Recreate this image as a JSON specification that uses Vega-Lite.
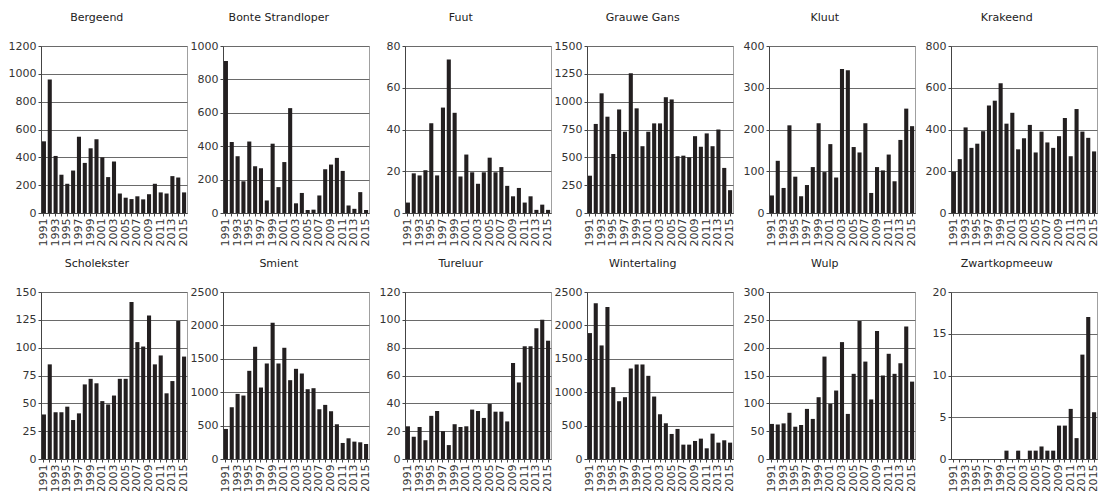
{
  "$schema": "https://vega.github.io/schema/vega-lite/v6.json",
  "padding": {"left": 4, "top": 11, "right": 0, "bottom": 0},
  "background": "white",
  "bounds": "flush",
  "datasets": {
    "Bergeend": [{"year":1991,"n":515},{"year":1992,"n":960},{"year":1993,"n":410},{"year":1994,"n":275},{"year":1995,"n":210},{"year":1996,"n":305},{"year":1997,"n":548},{"year":1998,"n":360},{"year":1999,"n":465},{"year":2000,"n":530},{"year":2001,"n":400},{"year":2002,"n":258},{"year":2003,"n":370},{"year":2004,"n":140},{"year":2005,"n":110},{"year":2006,"n":100},{"year":2007,"n":120},{"year":2008,"n":98},{"year":2009,"n":135},{"year":2010,"n":210},{"year":2011,"n":148},{"year":2012,"n":140},{"year":2013,"n":265},{"year":2014,"n":255},{"year":2015,"n":148}],
    "Bonte Strandloper": [{"year":1991,"n":910},{"year":1992,"n":425},{"year":1993,"n":340},{"year":1994,"n":190},{"year":1995,"n":428},{"year":1996,"n":280},{"year":1997,"n":268},{"year":1998,"n":75},{"year":1999,"n":415},{"year":2000,"n":155},{"year":2001,"n":305},{"year":2002,"n":628},{"year":2003,"n":58},{"year":2004,"n":120},{"year":2005,"n":18},{"year":2006,"n":20},{"year":2007,"n":105},{"year":2008,"n":262},{"year":2009,"n":290},{"year":2010,"n":330},{"year":2011,"n":252},{"year":2012,"n":45},{"year":2013,"n":25},{"year":2014,"n":125},{"year":2015,"n":18}],
    "Fuut": [{"year":1991,"n":5},{"year":1992,"n":19},{"year":1993,"n":18},{"year":1994,"n":20.5},{"year":1995,"n":43},{"year":1996,"n":18},{"year":1997,"n":50.5},{"year":1998,"n":73.5},{"year":1999,"n":48},{"year":2000,"n":17.5},{"year":2001,"n":28},{"year":2002,"n":19.5},{"year":2003,"n":14},{"year":2004,"n":19.5},{"year":2005,"n":26.5},{"year":2006,"n":19.5},{"year":2007,"n":22},{"year":2008,"n":13},{"year":2009,"n":8},{"year":2010,"n":12},{"year":2011,"n":5},{"year":2012,"n":8},{"year":2013,"n":1.5},{"year":2014,"n":4},{"year":2015,"n":1.5}],
    "Grauwe Gans": [{"year":1991,"n":335},{"year":1992,"n":800},{"year":1993,"n":1075},{"year":1994,"n":865},{"year":1995,"n":530},{"year":1996,"n":930},{"year":1997,"n":730},{"year":1998,"n":1255},{"year":1999,"n":940},{"year":2000,"n":600},{"year":2001,"n":730},{"year":2002,"n":805},{"year":2003,"n":805},{"year":2004,"n":1040},{"year":2005,"n":1020},{"year":2006,"n":510},{"year":2007,"n":515},{"year":2008,"n":500},{"year":2009,"n":690},{"year":2010,"n":595},{"year":2011,"n":715},{"year":2012,"n":600},{"year":2013,"n":750},{"year":2014,"n":405},{"year":2015,"n":205}],
    "Kluut": [{"year":1991,"n":42},{"year":1992,"n":125},{"year":1993,"n":60},{"year":1994,"n":210},{"year":1995,"n":87},{"year":1996,"n":40},{"year":1997,"n":67},{"year":1998,"n":110},{"year":1999,"n":215},{"year":2000,"n":98},{"year":2001,"n":165},{"year":2002,"n":85},{"year":2003,"n":345},{"year":2004,"n":342},{"year":2005,"n":158},{"year":2006,"n":145},{"year":2007,"n":215},{"year":2008,"n":48},{"year":2009,"n":110},{"year":2010,"n":102},{"year":2011,"n":140},{"year":2012,"n":76},{"year":2013,"n":175},{"year":2014,"n":250},{"year":2015,"n":208}],
    "Krakeend": [{"year":1991,"n":198},{"year":1992,"n":258},{"year":1993,"n":410},{"year":1994,"n":312},{"year":1995,"n":332},{"year":1996,"n":392},{"year":1997,"n":515},{"year":1998,"n":538},{"year":1999,"n":622},{"year":2000,"n":428},{"year":2001,"n":480},{"year":2002,"n":305},{"year":2003,"n":358},{"year":2004,"n":422},{"year":2005,"n":290},{"year":2006,"n":390},{"year":2007,"n":338},{"year":2008,"n":312},{"year":2009,"n":368},{"year":2010,"n":455},{"year":2011,"n":272},{"year":2012,"n":498},{"year":2013,"n":390},{"year":2014,"n":360},{"year":2015,"n":295}],
    "Scholekster": [{"year":1991,"n":40},{"year":1992,"n":85},{"year":1993,"n":42},{"year":1994,"n":42},{"year":1995,"n":47},{"year":1996,"n":35},{"year":1997,"n":41},{"year":1998,"n":67},{"year":1999,"n":72},{"year":2000,"n":68},{"year":2001,"n":52},{"year":2002,"n":49},{"year":2003,"n":57},{"year":2004,"n":72},{"year":2005,"n":72},{"year":2006,"n":141},{"year":2007,"n":105},{"year":2008,"n":101},{"year":2009,"n":129},{"year":2010,"n":85},{"year":2011,"n":93},{"year":2012,"n":59},{"year":2013,"n":70},{"year":2014,"n":124},{"year":2015,"n":92}],
    "Smient": [{"year":1991,"n":450},{"year":1992,"n":775},{"year":1993,"n":975},{"year":1994,"n":950},{"year":1995,"n":1320},{"year":1996,"n":1680},{"year":1997,"n":1070},{"year":1998,"n":1430},{"year":1999,"n":2040},{"year":2000,"n":1430},{"year":2001,"n":1665},{"year":2002,"n":1180},{"year":2003,"n":1350},{"year":2004,"n":1280},{"year":2005,"n":1045},{"year":2006,"n":1060},{"year":2007,"n":745},{"year":2008,"n":810},{"year":2009,"n":715},{"year":2010,"n":520},{"year":2011,"n":240},{"year":2012,"n":310},{"year":2013,"n":260},{"year":2014,"n":250},{"year":2015,"n":225}],
    "Tureluur": [{"year":1991,"n":23.5},{"year":1992,"n":16},{"year":1993,"n":23},{"year":1994,"n":13.5},{"year":1995,"n":31},{"year":1996,"n":34.5},{"year":1997,"n":20},{"year":1998,"n":10},{"year":1999,"n":25},{"year":2000,"n":23},{"year":2001,"n":23.5},{"year":2002,"n":35.5},{"year":2003,"n":34.5},{"year":2004,"n":29.5},{"year":2005,"n":39.5},{"year":2006,"n":34},{"year":2007,"n":34},{"year":2008,"n":27},{"year":2009,"n":69},{"year":2010,"n":55},{"year":2011,"n":81},{"year":2012,"n":81},{"year":2013,"n":94},{"year":2014,"n":100},{"year":2015,"n":85}],
    "Wintertaling": [{"year":1991,"n":1885},{"year":1992,"n":2330},{"year":1993,"n":1700},{"year":1994,"n":2275},{"year":1995,"n":1075},{"year":1996,"n":865},{"year":1997,"n":925},{"year":1998,"n":1355},{"year":1999,"n":1415},{"year":2000,"n":1415},{"year":2001,"n":1245},{"year":2002,"n":935},{"year":2003,"n":670},{"year":2004,"n":535},{"year":2005,"n":375},{"year":2006,"n":450},{"year":2007,"n":215},{"year":2008,"n":215},{"year":2009,"n":270},{"year":2010,"n":305},{"year":2011,"n":160},{"year":2012,"n":380},{"year":2013,"n":245},{"year":2014,"n":280},{"year":2015,"n":245}],
    "Wulp": [{"year":1991,"n":63},{"year":1992,"n":62},{"year":1993,"n":64},{"year":1994,"n":83},{"year":1995,"n":58},{"year":1996,"n":61},{"year":1997,"n":90},{"year":1998,"n":72},{"year":1999,"n":111},{"year":2000,"n":184},{"year":2001,"n":99},{"year":2002,"n":123},{"year":2003,"n":210},{"year":2004,"n":81},{"year":2005,"n":153},{"year":2006,"n":248},{"year":2007,"n":175},{"year":2008,"n":107},{"year":2009,"n":230},{"year":2010,"n":150},{"year":2011,"n":189},{"year":2012,"n":153},{"year":2013,"n":172},{"year":2014,"n":238},{"year":2015,"n":139}],
    "Zwartkopmeeuw": [{"year":1991,"n":0},{"year":1992,"n":0},{"year":1993,"n":0},{"year":1994,"n":0},{"year":1995,"n":0},{"year":1996,"n":0},{"year":1997,"n":0},{"year":1998,"n":0},{"year":1999,"n":0},{"year":2000,"n":1},{"year":2001,"n":0},{"year":2002,"n":1},{"year":2003,"n":0},{"year":2004,"n":1},{"year":2005,"n":1},{"year":2006,"n":1.5},{"year":2007,"n":1},{"year":2008,"n":1},{"year":2009,"n":4},{"year":2010,"n":4},{"year":2011,"n":6},{"year":2012,"n":2.5},{"year":2013,"n":12.5},{"year":2014,"n":17},{"year":2015,"n":5.6}]
  },
  "columns": 6,
  "spacing": {"row": 79, "column": 36},
  "concat": [
    {"title": "Bergeend", "data": {"name": "Bergeend"}, "width": 146, "height": 167, "mark": {"type": "bar", "color": "#231f20"},
     "encoding": {"x": {"field": "year", "type": "ordinal", "scale": {"paddingInner": 0.3, "paddingOuter": 0.15}, "axis": {"title": null, "labelOverlap": false, "labelExpr": "datum.value % 2 == 1 ? datum.label : ''"}},
                  "y": {"field": "n", "type": "quantitative", "scale": {"domain": [0, 1200]}, "axis": {"title": null, "format": "d", "values": [0, 200, 400, 600, 800, 1000, 1200]}}}},
    {"title": "Bonte Strandloper", "data": {"name": "Bonte Strandloper"}, "width": 146, "height": 167, "mark": {"type": "bar", "color": "#231f20"},
     "encoding": {"x": {"field": "year", "type": "ordinal", "scale": {"paddingInner": 0.3, "paddingOuter": 0.15}, "axis": {"title": null, "labelOverlap": false, "labelExpr": "datum.value % 2 == 1 ? datum.label : ''"}},
                  "y": {"field": "n", "type": "quantitative", "scale": {"domain": [0, 1000]}, "axis": {"title": null, "format": "d", "values": [0, 200, 400, 600, 800, 1000]}}}},
    {"title": "Fuut", "data": {"name": "Fuut"}, "width": 146, "height": 167, "mark": {"type": "bar", "color": "#231f20"},
     "encoding": {"x": {"field": "year", "type": "ordinal", "scale": {"paddingInner": 0.3, "paddingOuter": 0.15}, "axis": {"title": null, "labelOverlap": false, "labelExpr": "datum.value % 2 == 1 ? datum.label : ''"}},
                  "y": {"field": "n", "type": "quantitative", "scale": {"domain": [0, 80]}, "axis": {"title": null, "format": "d", "values": [0, 20, 40, 60, 80]}}}},
    {"title": "Grauwe Gans", "data": {"name": "Grauwe Gans"}, "width": 146, "height": 167, "mark": {"type": "bar", "color": "#231f20"},
     "encoding": {"x": {"field": "year", "type": "ordinal", "scale": {"paddingInner": 0.3, "paddingOuter": 0.15}, "axis": {"title": null, "labelOverlap": false, "labelExpr": "datum.value % 2 == 1 ? datum.label : ''"}},
                  "y": {"field": "n", "type": "quantitative", "scale": {"domain": [0, 1500]}, "axis": {"title": null, "format": "d", "values": [0, 250, 500, 750, 1000, 1250, 1500]}}}},
    {"title": "Kluut", "data": {"name": "Kluut"}, "width": 146, "height": 167, "mark": {"type": "bar", "color": "#231f20"},
     "encoding": {"x": {"field": "year", "type": "ordinal", "scale": {"paddingInner": 0.3, "paddingOuter": 0.15}, "axis": {"title": null, "labelOverlap": false, "labelExpr": "datum.value % 2 == 1 ? datum.label : ''"}},
                  "y": {"field": "n", "type": "quantitative", "scale": {"domain": [0, 400]}, "axis": {"title": null, "format": "d", "values": [0, 100, 200, 300, 400]}}}},
    {"title": "Krakeend", "data": {"name": "Krakeend"}, "width": 146, "height": 167, "mark": {"type": "bar", "color": "#231f20"},
     "encoding": {"x": {"field": "year", "type": "ordinal", "scale": {"paddingInner": 0.3, "paddingOuter": 0.15}, "axis": {"title": null, "labelOverlap": false, "labelExpr": "datum.value % 2 == 1 ? datum.label : ''"}},
                  "y": {"field": "n", "type": "quantitative", "scale": {"domain": [0, 800]}, "axis": {"title": null, "format": "d", "values": [0, 200, 400, 600, 800]}}}},
    {"title": "Scholekster", "data": {"name": "Scholekster"}, "width": 146, "height": 167, "mark": {"type": "bar", "color": "#231f20"},
     "encoding": {"x": {"field": "year", "type": "ordinal", "scale": {"paddingInner": 0.3, "paddingOuter": 0.15}, "axis": {"title": null, "labelOverlap": false, "labelExpr": "datum.value % 2 == 1 ? datum.label : ''"}},
                  "y": {"field": "n", "type": "quantitative", "scale": {"domain": [0, 150]}, "axis": {"title": null, "format": "d", "values": [0, 25, 50, 75, 100, 125, 150]}}}},
    {"title": "Smient", "data": {"name": "Smient"}, "width": 146, "height": 167, "mark": {"type": "bar", "color": "#231f20"},
     "encoding": {"x": {"field": "year", "type": "ordinal", "scale": {"paddingInner": 0.3, "paddingOuter": 0.15}, "axis": {"title": null, "labelOverlap": false, "labelExpr": "datum.value % 2 == 1 ? datum.label : ''"}},
                  "y": {"field": "n", "type": "quantitative", "scale": {"domain": [0, 2500]}, "axis": {"title": null, "format": "d", "values": [0, 500, 1000, 1500, 2000, 2500]}}}},
    {"title": "Tureluur", "data": {"name": "Tureluur"}, "width": 146, "height": 167, "mark": {"type": "bar", "color": "#231f20"},
     "encoding": {"x": {"field": "year", "type": "ordinal", "scale": {"paddingInner": 0.3, "paddingOuter": 0.15}, "axis": {"title": null, "labelOverlap": false, "labelExpr": "datum.value % 2 == 1 ? datum.label : ''"}},
                  "y": {"field": "n", "type": "quantitative", "scale": {"domain": [0, 120]}, "axis": {"title": null, "format": "d", "values": [0, 20, 40, 60, 80, 100, 120]}}}},
    {"title": "Wintertaling", "data": {"name": "Wintertaling"}, "width": 146, "height": 167, "mark": {"type": "bar", "color": "#231f20"},
     "encoding": {"x": {"field": "year", "type": "ordinal", "scale": {"paddingInner": 0.3, "paddingOuter": 0.15}, "axis": {"title": null, "labelOverlap": false, "labelExpr": "datum.value % 2 == 1 ? datum.label : ''"}},
                  "y": {"field": "n", "type": "quantitative", "scale": {"domain": [0, 2500]}, "axis": {"title": null, "format": "d", "values": [0, 500, 1000, 1500, 2000, 2500]}}}},
    {"title": "Wulp", "data": {"name": "Wulp"}, "width": 146, "height": 167, "mark": {"type": "bar", "color": "#231f20"},
     "encoding": {"x": {"field": "year", "type": "ordinal", "scale": {"paddingInner": 0.3, "paddingOuter": 0.15}, "axis": {"title": null, "labelOverlap": false, "labelExpr": "datum.value % 2 == 1 ? datum.label : ''"}},
                  "y": {"field": "n", "type": "quantitative", "scale": {"domain": [0, 300]}, "axis": {"title": null, "format": "d", "values": [0, 50, 100, 150, 200, 250, 300]}}}},
    {"title": "Zwartkopmeeuw", "data": {"name": "Zwartkopmeeuw"}, "width": 146, "height": 167, "mark": {"type": "bar", "color": "#231f20"},
     "encoding": {"x": {"field": "year", "type": "ordinal", "scale": {"paddingInner": 0.3, "paddingOuter": 0.15}, "axis": {"title": null, "labelOverlap": false, "labelExpr": "datum.value % 2 == 1 ? datum.label : ''"}},
                  "y": {"field": "n", "type": "quantitative", "scale": {"domain": [0, 20]}, "axis": {"title": null, "format": "d", "values": [0, 5, 10, 15, 20]}}}}
  ],
  "config": {
    "font": "DejaVu Sans",
    "view": {"stroke": "#a0a0a0", "strokeWidth": 1},
    "title": {"font": "DejaVu Sans", "fontSize": 11, "fontWeight": "normal", "color": "#222222", "frame": "bounds", "anchor": "middle", "offset": 17},
    "axis": {"labelFont": "DejaVu Sans", "labelFontSize": 11, "labelColor": "#333333", "domainColor": "#444444", "tickColor": "#444444"},
    "axisX": {"labelAngle": 270, "tickSize": 3, "labelPadding": 2, "grid": false, "minExtent": 34, "maxExtent": 34},
    "axisY": {"tickSize": 3, "labelPadding": 2, "gridColor": "#6a6a6a", "gridWidth": 1, "minExtent": 36, "maxExtent": 36}
  }
}
